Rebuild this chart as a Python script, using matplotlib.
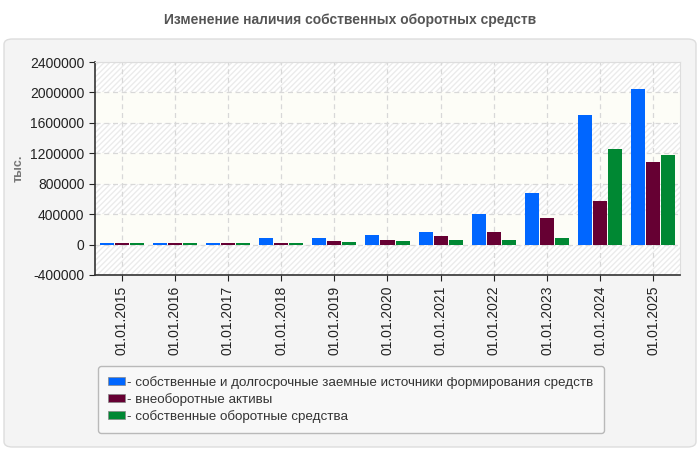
import matplotlib
matplotlib.use('Agg')
import matplotlib.pyplot as plt
import matplotlib.patches as mpatches
import numpy as np

plt.rcParams['font.family'] = ['Liberation Sans', 'DejaVu Sans']

# ---- data ----
dates = ['01.01.2015', '01.01.2016', '01.01.2017', '01.01.2018', '01.01.2019',
         '01.01.2020', '01.01.2021', '01.01.2022', '01.01.2023', '01.01.2024',
         '01.01.2025']
own_and_longterm = [20000, 20000, 20000, 80000, 92000, 132000, 171000,
                    396000, 673000, 1701000, 2044000]
noncurrent_assets = [20000, 20000, 20000, 20000, 50000, 66000, 118000,
                     171000, 343000, 567000, 1081000]
own_working_capital = [20000, 20000, 20000, 20000, 35000, 53000, 66000,
                       66000, 92000, 1253000, 1174000]
series_names = ['- собственные и долгосрочные заемные источники формирования средств',
                '- внеоборотные активы',
                '- собственные оборотные средства']
yticks = [-400000, 0, 400000, 800000, 1200000, 1600000, 2000000, 2400000]

COLORS = ['#0066ff', '#660033', '#008833']

fig = plt.figure(figsize=(7, 4.5), dpi=100)
fig.patch.set_facecolor('white')

# outer gray panel
panel = mpatches.FancyBboxPatch((4 / 700, 3 / 450), 692 / 700, 408 / 450,
                                boxstyle='round,pad=0,rounding_size=0.012',
                                transform=fig.transFigure, facecolor='#f4f4f4',
                                edgecolor='#dddddd', linewidth=1.0, zorder=-5)
fig.patches.append(panel)

fig.text(0.5, 1 - 20 / 450, 'Изменение наличия собственных оборотных средств',
         ha='center', va='center', fontsize=10, fontweight='bold',
         color='#555555')

ax = fig.add_axes([95 / 700, 175 / 450, 585 / 700, 213 / 450])
ax.set_facecolor('#fdfdf7')

# alternating hatched / plain bands
for i in range(len(yticks) - 1):
    if i % 2 == 0:
        ax.axhspan(yticks[i], yticks[i + 1], facecolor='white',
                   edgecolor='#ebebeb', hatch='//////', linewidth=0, zorder=0)

x = np.arange(len(dates))
w = 14 / 53
step = 15 / 53
for k, vals in enumerate([own_and_longterm, noncurrent_assets, own_working_capital]):
    ax.bar(x + (k - 1) * step, vals, width=w, color=COLORS[k], zorder=3,
           label=series_names[k])

ax.set_xlim(-0.5, len(dates) - 0.5)
ax.set_ylim(yticks[0], yticks[-1])
ax.set_yticks(yticks)
ax.set_yticklabels([str(v) for v in yticks])
ax.set_xticks(x)
ax.set_xticklabels(dates, rotation=90)
ax.tick_params(axis='both', labelsize=10, colors='#222222', length=4)
ax.grid(True, color='#d8d8d8', linestyle=(0, (4, 3)), linewidth=0.9, zorder=1)
ax.set_axisbelow(True)

for side in ['top', 'right']:
    ax.spines[side].set_color('#dddddd')
for side in ['left', 'bottom']:
    ax.spines[side].set_color('#333333')
    ax.spines[side].set_linewidth(1.2)

fig.text(19 / 700, 1 - 168 / 450, 'тыс.', rotation=90, ha='center',
         va='center', fontsize=9, fontweight='bold', color='#777777')

handles = [mpatches.FancyBboxPatch((0, 0), 1, 1, boxstyle='round,pad=0,rounding_size=0.3',
                                   facecolor=c, edgecolor='#888888', linewidth=0.5)
           for c in COLORS]
leg = fig.legend(handles, series_names, loc='upper left',
                 bbox_to_anchor=(98 / 700, 1 - 366 / 450), borderaxespad=0,
                 fontsize=9.6, frameon=True, fancybox=True, handlelength=1.3,
                 handleheight=0.55, handletextpad=0.15, labelspacing=0.3,
                 borderpad=0.75, labelcolor='#333333')
leg.get_frame().set_facecolor('#fafafa')
leg.get_frame().set_edgecolor('#aaaaaa')

fig.savefig('out.png', dpi=100, facecolor=fig.get_facecolor())
